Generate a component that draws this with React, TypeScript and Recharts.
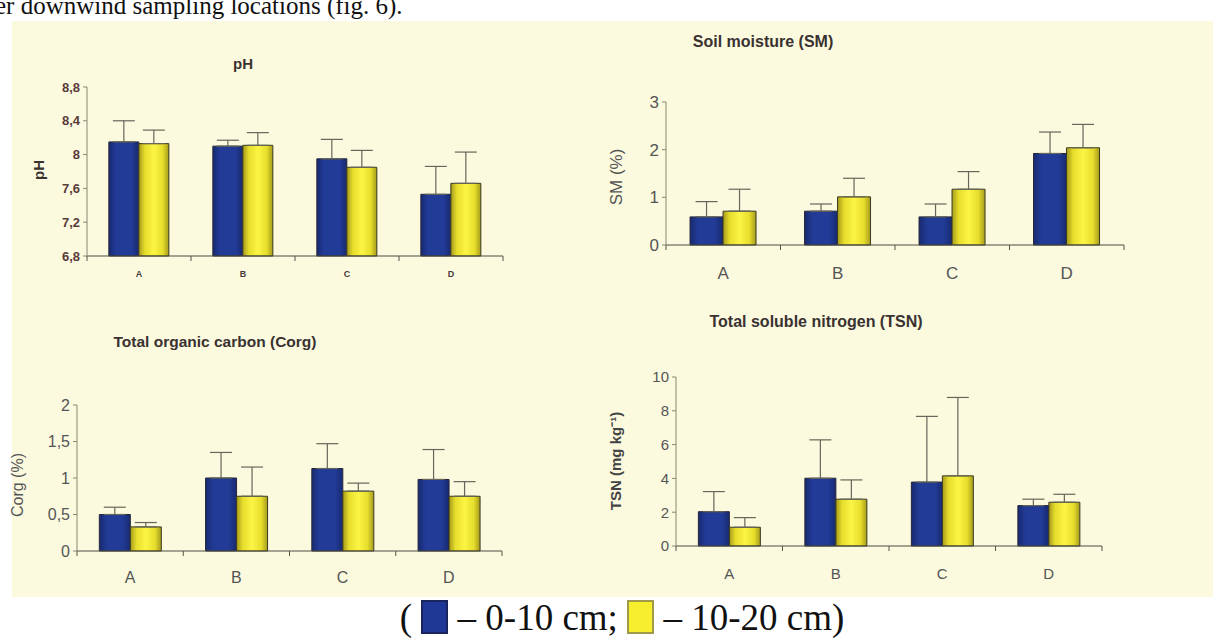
import { Bar, BarChart, ErrorBar, XAxis, YAxis } from 'recharts'

const sites = ['A', 'B', 'C', 'D']

// pH
const phShallow = [8.15, 8.1, 7.95, 7.53]
const phDeep = [8.13, 8.11, 7.85, 7.66]
const phShallowErr = [0.25, 0.07, 0.23, 0.33]
const phDeepErr = [0.16, 0.15, 0.2, 0.37]
const phTicks = [6.8, 7.2, 7.6, 8, 8.4, 8.8]

// Soil moisture (%)
const smShallow = [0.59, 0.71, 0.59, 1.92]
const smDeep = [0.71, 1.01, 1.17, 2.04]
const smShallowErr = [0.32, 0.15, 0.27, 0.45]
const smDeepErr = [0.46, 0.39, 0.37, 0.49]
const smTicks = [0, 1, 2, 3]

// Total organic carbon (%)
const corgShallow = [0.5, 1.0, 1.13, 0.98]
const corgDeep = [0.33, 0.75, 0.82, 0.75]
const corgShallowErr = [0.1, 0.35, 0.34, 0.41]
const corgDeepErr = [0.06, 0.4, 0.11, 0.2]
const corgTicks = [0, 0.5, 1, 1.5, 2]

// Total soluble nitrogen (mg kg-1)
const tsnShallow = [2.03, 4.01, 3.78, 2.39]
const tsnDeep = [1.11, 2.77, 4.15, 2.59]
const tsnShallowErr = [1.19, 2.27, 3.89, 0.38]
const tsnDeepErr = [0.57, 1.14, 4.64, 0.47]
const tsnTicks = [0, 2, 4, 6, 8, 10]

const FONT = '"Liberation Sans", Arial, sans-serif'
const SERIF = '"Liberation Serif", "Times New Roman", serif'

const rows = (a: number[], b: number[], ea: number[], eb: number[]) =>
  sites.map((site, i) => ({
    site,
    shallow: a[i],
    deep: b[i],
    shallowErr: [0, ea[i]],
    deepErr: [0, eb[i]],
  }))

const comma = (v: number) => String(v).replace('.', ',')

type TickFont = { size: number; weight: number; fill: string; gap: number }

// category label centred in its band, little tick marks on the band edges
const siteTick = (f: TickFont, halfBand: number) => (props: any) => {
  const { x, y, payload } = props
  const half = payload?.offset || halfBand
  return (
    <g>
      <line x1={x - half} y1={y} x2={x - half} y2={y + 5} stroke="#55554a" />
      {payload.value === 'D' && (
        <line x1={x + half} y1={y} x2={x + half} y2={y + 5} stroke="#55554a" />
      )}
      <text
        x={x}
        y={y + f.gap}
        textAnchor="middle"
        dominantBaseline="central"
        fontSize={f.size}
        fontWeight={f.weight}
        fill={f.fill}
        fontFamily={FONT}
      >
        {payload.value}
      </text>
    </g>
  )
}

type PanelProps = {
  data: ReturnType<typeof rows>
  ticks: number[]
  plot: { left: number; right: number; top: number; bottom: number }
  axisWidth: number
  yFont: { size: number; weight: number; fill: string }
  xFont: TickFont
}

const Panel = ({ data, ticks, plot, axisWidth, yFont, xFont }: PanelProps) => {
  const left = plot.left - axisWidth
  const width = plot.right - left + 10
  const height = plot.bottom - plot.top + 50
  const halfBand = (plot.right - plot.left) / 8
  return (
    <div style={{ position: 'absolute', left, top: plot.top - 10 }}>
      <BarChart
        width={width}
        height={height}
        data={data}
        margin={{ top: 10, right: 10, bottom: 0, left: 0 }}
        barCategoryGap="21%"
        barGap={0}
      >
        <XAxis
          dataKey="site"
          height={40}
          tickSize={0}
          tickMargin={0}
          tickLine={false}
          stroke="#4d4c40"
          tick={siteTick(xFont, halfBand)}
          interval={0}
        />
        <YAxis
          width={axisWidth}
          domain={[ticks[0], ticks[ticks.length - 1]]}
          ticks={ticks}
          tickSize={4}
          tickMargin={3}
          stroke="#8a8672"
          tickFormatter={comma}
          tick={{ fontSize: yFont.size, fontWeight: yFont.weight, fill: yFont.fill, fontFamily: FONT }}
        />
        <Bar dataKey="shallow" fill="url(#blueBar)" stroke="#26263a" isAnimationActive={false}>
          <ErrorBar dataKey="shallowErr" width={11} stroke="#66665a" strokeWidth={1.2} />
        </Bar>
        <Bar dataKey="deep" fill="url(#yellowBar)" stroke="#3a3a22" isAnimationActive={false}>
          <ErrorBar dataKey="deepErr" width={11} stroke="#66665a" strokeWidth={1.2} />
        </Bar>
      </BarChart>
    </div>
  )
}

const Label = ({ x, y, text, size, weight, color, rotate }: any) => (
  <div
    style={{
      position: 'absolute',
      left: x,
      top: y,
      transform: `translate(-50%, -50%)${rotate ? ' rotate(-90deg)' : ''}`,
      fontFamily: FONT,
      fontSize: size,
      fontWeight: weight,
      color,
      whiteSpace: 'nowrap',
      lineHeight: 1,
    }}
  >
    {text}
  </div>
)

const Swatch = ({ color, border }: { color: string; border: string }) => (
  <span
    style={{
      display: 'inline-block',
      width: 23,
      height: 30,
      background: color,
      border: `2px solid ${border}`,
      verticalAlign: '-4px',
    }}
  />
)

export default function App() {
  const title = '#3a3131'
  return (
    <div
      style={{
        position: 'absolute',
        left: 0,
        top: 0,
        width: 1216,
        height: 641,
        overflow: 'hidden',
        background: '#ffffff',
      }}
    >
      <svg width={0} height={0} style={{ position: 'absolute' }}>
        <defs>
          <linearGradient id="blueBar" x1="0" y1="0" x2="1" y2="0">
            <stop offset="0%" stopColor="#182a70" />
            <stop offset="25%" stopColor="#213b97" />
            <stop offset="75%" stopColor="#213b97" />
            <stop offset="100%" stopColor="#182a70" />
          </linearGradient>
          <linearGradient id="yellowBar" x1="0" y1="0" x2="1" y2="0">
            <stop offset="0%" stopColor="#a59a1c" />
            <stop offset="20%" stopColor="#e6dd2c" />
            <stop offset="50%" stopColor="#fcf545" />
            <stop offset="80%" stopColor="#e6dd2c" />
            <stop offset="100%" stopColor="#a59a1c" />
          </linearGradient>
        </defs>
      </svg>

      <div
        style={{
          position: 'absolute',
          left: -5,
          top: -7,
          fontFamily: SERIF,
          fontSize: 25,
          lineHeight: 1,
          color: '#111',
          whiteSpace: 'nowrap',
        }}
      >
        er downwind sampling locations (fig. 6).
      </div>

      <div
        style={{
          position: 'absolute',
          left: 12,
          top: 21,
          width: 1201,
          height: 576,
          background: '#fbfadf',
        }}
      />

      <Label x={243} y={63} text="pH" size={15} weight={700} color={title} />
      <Label x={38} y={170} text="pH" size={15} weight={700} color={title} rotate />
      <Panel
        data={rows(phShallow, phDeep, phShallowErr, phDeepErr)}
        ticks={phTicks}
        plot={{ left: 87, right: 503, top: 87, bottom: 256 }}
        axisWidth={40}
        yFont={{ size: 13, weight: 700, fill: '#5a3a3a' }}
        xFont={{ size: 9, weight: 700, fill: '#4a3a3a', gap: 18 }}
      />

      <Label x={763} y={42} text="Soil moisture (SM)" size={16} weight={700} color={title} />
      <Label x={616} y={177} text="SM (%)" size={17} weight={400} color="#555" rotate />
      <Panel
        data={rows(smShallow, smDeep, smShallowErr, smDeepErr)}
        ticks={smTicks}
        plot={{ left: 666, right: 1124, top: 102, bottom: 245 }}
        axisWidth={34}
        yFont={{ size: 17, weight: 400, fill: '#555' }}
        xFont={{ size: 17, weight: 400, fill: '#555', gap: 28 }}
      />

      <Label x={215} y={342} text="Total organic carbon (Corg)" size={15.5} weight={700} color={title} />
      <Label x={18} y={485} text="Corg (%)" size={16} weight={400} color="#555" rotate />
      <Panel
        data={rows(corgShallow, corgDeep, corgShallowErr, corgDeepErr)}
        ticks={corgTicks}
        plot={{ left: 77, right: 502, top: 405, bottom: 551 }}
        axisWidth={42}
        yFont={{ size: 16, weight: 400, fill: '#555' }}
        xFont={{ size: 16, weight: 400, fill: '#555', gap: 26 }}
      />

      <Label x={816} y={322} text="Total soluble nitrogen (TSN)" size={16} weight={700} color={title} />
      <Label x={615} y={461} text="TSN (mg kg⁻¹)" size={15} weight={700} color="#444" rotate />
      <Panel
        data={rows(tsnShallow, tsnDeep, tsnShallowErr, tsnDeepErr)}
        ticks={tsnTicks}
        plot={{ left: 676, right: 1102, top: 377, bottom: 546 }}
        axisWidth={36}
        yFont={{ size: 15, weight: 400, fill: '#555' }}
        xFont={{ size: 15, weight: 400, fill: '#555', gap: 27 }}
      />

      <div
        style={{
          position: 'absolute',
          left: 14,
          width: 1216,
          top: 598,
          textAlign: 'center',
          fontFamily: SERIF,
          fontSize: 37,
          lineHeight: '40px',
          color: '#111',
          whiteSpace: 'pre',
        }}
      >
        {'( '}
        <Swatch color="#1f3795" border="#1a2560" />
        {' – 0-10 cm; '}
        <Swatch color="#f7ef2e" border="#a09a4a" />
        {' – 10-20 cm)'}
      </div>
    </div>
  )
}
